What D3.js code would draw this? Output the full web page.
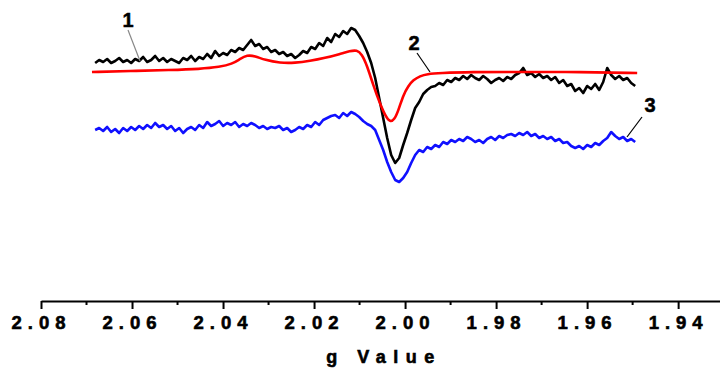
<!DOCTYPE html>
<html>
<head>
<meta charset="utf-8">
<script src="https://cdn.jsdelivr.net/npm/d3@7"></script>
<style>
  body { margin: 0; background: #fff; }
  svg { display: block; }
</style>
</head>
<body>
<script>
'use strict';

var width = 720,
    height = 368

// field sampling of traces 1 and 3 (g value, 136 points, evenly spaced)
var gStart = 2.0681,
    gStep = 0.000879
var gGrid = d3.range(136).map(function(i) { return gStart - i * gStep; });

// trace 1 (black), intensity in a.u., offset for display
var trace1 = [
  37, 40, 38, 41, 37, 39, 42, 38, 40, 37, 41, 39, 43, 38, 40,
  44, 39, 42, 38, 41, 39, 37, 42, 40, 44, 39, 43, 41, 46, 42,
  49, 44, 47, 45, 50, 48, 52, 50, 55, 60, 54, 56, 51, 53, 48,
  50, 46, 48, 44, 46, 42, 45, 49, 47, 53, 51, 57, 54, 62, 58,
  66, 63, 69, 66, 72, 70, 64, 57, 48, 37, 22, 2, -18, -38, -55,
  -63, -58, -45, -33, -20, -8, -2, 6, 10, 13, 14, 17, 15, 20, 18,
  22, 20, 24, 21, 25, 22, 20, 24, 21, 17, 20, 22, 19, 23, 21,
  25, 27, 32, 25, 27, 23, 26, 22, 24, 20, 23, 17, 20, 14, 16,
  9, 12, 7, 14, 11, 16, 10, 18, 32, 25, 21, 24, 20, 22, 17, 14
];

// trace 3 (blue)
var trace3 = [
  -30, -28, -31, -27, -32, -29, -33, -28, -31, -27, -30, -26, -29, -25, -28,
  -23, -27, -25, -29, -26, -31, -28, -33, -29, -27, -30, -25, -28, -22, -26,
  -24, -21, -26, -23, -25, -22, -27, -24, -26, -23, -25, -28, -26, -29, -27,
  -28, -26, -30, -28, -32, -30, -27, -29, -25, -27, -22, -25, -20, -18, -16,
  -15, -18, -13, -16, -12, -14, -17, -21, -24, -26, -30, -40, -50, -62, -72,
  -80, -82, -78, -72, -63, -55, -50, -52, -47, -49, -45, -47, -42, -44, -40,
  -42, -39, -41, -37, -39, -42, -40, -43, -39, -37, -40, -36, -38, -35, -34,
  -36, -33, -35, -32, -36, -34, -38, -36, -39, -37, -41, -39, -43, -42, -46,
  -48, -46, -49, -45, -47, -43, -45, -41, -38, -32, -36, -39, -37, -41, -39, -42
];

// trace 2 (red, simulated spectrum)
var gTrace2 = [2.0688, 2.0604, 2.0516, 2.0451, 2.0407, 2.0380, 2.0363, 2.0347, 2.0330,
  2.0308, 2.0275, 2.0242, 2.0209, 2.0176, 2.0143, 2.0121, 2.0106, 2.0095, 2.0084,
  2.0070, 2.0055, 2.0042, 2.0033, 2.0024, 2.0015, 2.0004, 1.9993, 1.9982, 1.9967,
  1.9952, 1.9923, 1.9857, 1.9747, 1.9615, 1.9490];
var trace2 = [28, 29, 30, 31, 33, 36, 41, 45, 44,
  40, 37, 37, 39, 42, 46, 49, 50, 46, 35,
  15, -4, -17, -22, -20, -11, 5, 14, 20, 24,
  26, 27, 28, 28, 28, 27];

var xTicks = [2.08, 2.06, 2.04, 2.02, 2.00, 1.98, 1.96, 1.94];
var xMinor = [2.07, 2.05, 2.03, 2.01, 1.99, 1.97, 1.95];

var font = "'Liberation Sans', Arial, sans-serif";

var svg = d3.select("body").append("svg")
    .attr("width", width)
    .attr("height", height);

var x = d3.scaleLinear()
    .domain([2.08, 1.9308])
    .range([41, 720]);

var y = d3.scaleLinear()
    .domain([-100, 100])
    .range([200, 0]);

var line = d3.line()
    .x(function(d) { return x(d[0]); })
    .y(function(d) { return y(d[1]); });

var smooth = d3.line()
    .curve(d3.curveBasis)
    .x(function(d) { return x(d[0]); })
    .y(function(d) { return y(d[1]); });

function zip(a, b) {
  return a.map(function(v, i) { return [v, b[i]]; });
}

svg.append("path")
    .attr("d", line(zip(gGrid, trace3)))
    .attr("fill", "none")
    .attr("stroke", "#1010ff")
    .attr("stroke-width", 2.6)
    .attr("stroke-linejoin", "round");

svg.append("path")
    .attr("d", line(zip(gGrid, trace1)))
    .attr("fill", "none")
    .attr("stroke", "#000")
    .attr("stroke-width", 2.6)
    .attr("stroke-linejoin", "round");

svg.append("path")
    .attr("d", smooth(zip(gTrace2, trace2)))
    .attr("fill", "none")
    .attr("stroke", "#ff0000")
    .attr("stroke-width", 2.6);

// axis
var axis = svg.append("g")
    .attr("transform", "translate(0,301)")
    .call(d3.axisBottom(x)
        .tickValues(xTicks)
        .tickSize(8)
        .tickSizeOuter(0)
        .tickFormat(d3.format(".2f")));

axis.select(".domain").attr("stroke-width", 2);
axis.selectAll(".tick line").attr("stroke-width", 2);
axis.selectAll(".tick text")
    .attr("y", 15)
    .style("font-family", font)
    .style("font-weight", "bold")
    .style("font-size", "18.5px")
    .style("letter-spacing", "6px")
    .style("stroke", "#000")
    .style("stroke-width", 0.6);

axis.selectAll(".minor")
    .data(xMinor)
    .enter().append("line")
    .attr("class", "minor")
    .attr("x1", function(d) { return x(d); })
    .attr("x2", function(d) { return x(d); })
    .attr("y1", 0)
    .attr("y2", 4)
    .attr("stroke", "#000")
    .attr("stroke-width", 2);

svg.append("text")
    .attr("x", 384)
    .attr("y", 363)
    .attr("text-anchor", "middle")
    .style("font-family", font)
    .style("font-weight", "bold")
    .style("font-size", "18px")
    .style("letter-spacing", "7.5px")
    .style("stroke", "#000")
    .style("stroke-width", 0.6)
    .text("g Value");

// trace labels with leader lines
var labels = [
  {t: "1", lx: 128, ly: 27, x1: 128, y1: 30, x2: 140, y2: 61, c: "#888"},
  {t: "2", lx: 414, ly: 50, x1: 417, y1: 53, x2: 430, y2: 72, c: "#000"},
  {t: "3", lx: 650, ly: 112, x1: 642, y1: 117, x2: 627, y2: 137, c: "#000"}
];

svg.selectAll(".lead")
    .data(labels)
    .enter().append("line")
    .attr("x1", function(d) { return d.x1; })
    .attr("y1", function(d) { return d.y1; })
    .attr("x2", function(d) { return d.x2; })
    .attr("y2", function(d) { return d.y2; })
    .attr("stroke", function(d) { return d.c; })
    .attr("stroke-width", 1.2);

svg.selectAll(".lbl")
    .data(labels)
    .enter().append("text")
    .attr("x", function(d) { return d.lx; })
    .attr("y", function(d) { return d.ly; })
    .attr("text-anchor", "middle")
    .style("font-family", font)
    .style("font-weight", "bold")
    .style("font-size", "20px")
    .style("stroke", "#000")
    .style("stroke-width", 0.5)
    .text(function(d) { return d.t; });
</script>
</body>
</html>
